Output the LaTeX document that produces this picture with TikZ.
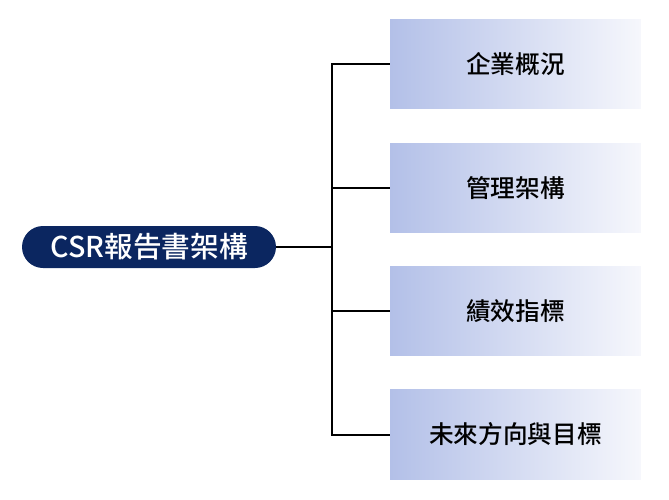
\documentclass[tikz,border=0pt]{standalone}
\usepackage{fontspec}
\newfontfamily\cjkm{Noto Sans CJK TC Medium}
\definecolor{navy}{HTML}{0B2660}
\definecolor{boxL}{HTML}{B3C0E8}
\definecolor{boxR}{HTML}{F6F7FC}
\begin{document}
\begin{tikzpicture}[x=0.75pt,y=-0.75pt,
  root/.style={draw=none,fill=navy,rounded corners=15.75pt,minimum width=190.5pt,minimum height=31.5pt,text=white,font=\cjkm\fontsize{21.5}{24}\selectfont},
  box/.style={draw=none,left color=boxL,right color=boxR,minimum width=188pt,minimum height=67pt,font=\cjkm\fontsize{18.5}{21}\selectfont},
  conn/.style={line width=1.5pt,black}]
\useasboundingbox (0,0) rectangle (669,500);
\node[root] (r) at (149,247) {CSR報告書架構};
\node[box] (b1) at (515.5,64) {企業概況};
\node[box] (b2) at (515.5,188) {管理架構};
\node[box] (b3) at (515.5,311) {績效指標};
\node[box] (b4) at (515.5,434.5) {未來方向與目標};
\coordinate (j) at (332,247);
\draw[conn] (r.east) -- (j);
\draw[conn] (b1.west) -| (j) |- (b4.west);
\draw[conn] (j |- b2.west) -- (b2.west);
\draw[conn] (j |- b3.west) -- (b3.west);
\end{tikzpicture}
\end{document}
